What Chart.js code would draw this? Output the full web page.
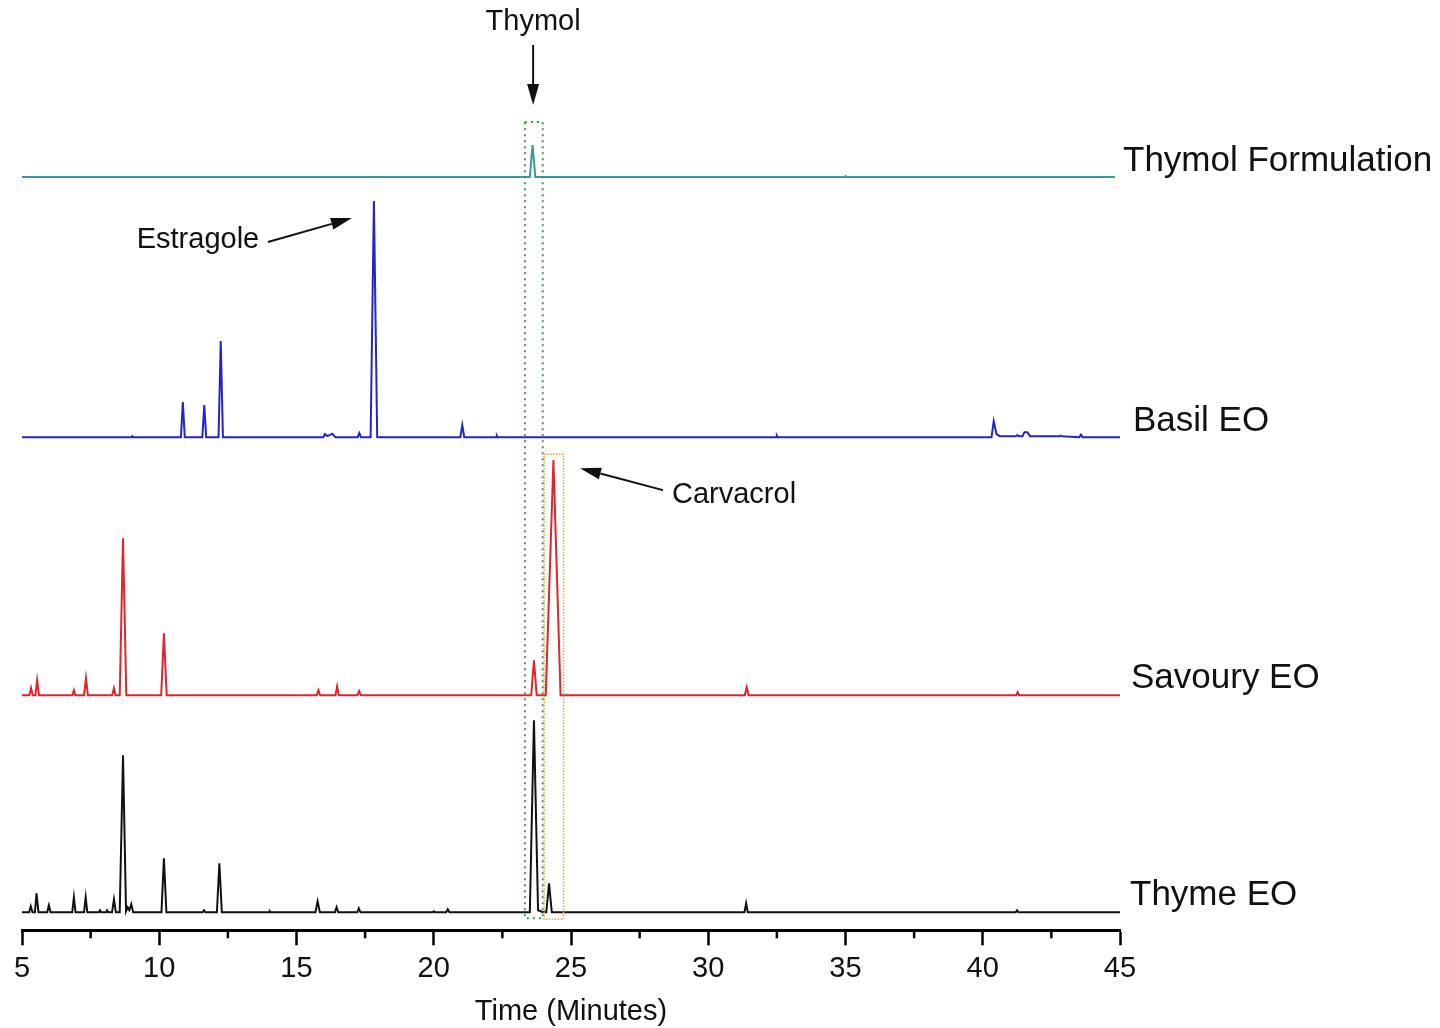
<!DOCTYPE html>
<html>
<head>
<meta charset="utf-8">
<title>GC chromatograms</title>
<script src="https://cdn.jsdelivr.net/npm/chart.js@4.4.1/dist/chart.umd.min.js"></script>
<style>
  html, body { margin: 0; padding: 0; background: #fff; }
  canvas { display: block; }
</style>
</head>
<body>
<canvas id="chromChart" width="1440" height="1028"></canvas>
<script>
// retention time (min) and signal above each trace's own baseline
const thymeTime = [5.0, 5.26, 5.32, 5.38, 5.47, 5.53, 5.60, 5.92, 5.98, 6.04, 6.83, 6.89, 6.95, 7.26, 7.32, 7.38,
  7.80, 7.84, 7.88, 8.06, 8.10, 8.14, 8.28, 8.35, 8.42, 8.56, 8.68, 8.79, 8.85, 8.91, 8.98, 9.05,
  10.08, 10.17, 10.26, 11.58, 11.63, 11.68, 12.10, 12.19, 12.28, 14.00, 14.03, 14.06,
  15.69, 15.77, 15.85, 16.40, 16.46, 16.52, 17.21, 17.27, 17.33, 19.96, 20.00, 20.04, 20.45, 20.51, 20.57,
  23.50, 23.65, 23.80, 23.98, 24.10, 24.20, 24.30, 31.32, 31.38, 31.44, 41.20, 41.25, 41.30, 45.0];
const thymeSignal = [0, 0, 6, 0, 0, 19, 0, 0, 7, 0, 0, 15, 0, 0, 15, 0,
  0, 2, 0, 0, 2, 0, 0, 13, 0, 0, 157, 1, 5, 2, 8, 0,
  0, 54, 0, 0, 2, 0, 0, 49, 0, 0, 1, 0,
  0, 11, 0, 0, 5, 0, 0, 4, 0, 0, 1, 0, 0, 3, 0,
  0, 192, 2, 0, 0, 29, 0, 0, 9, 0, 0, 2, 0, 0];

const savouryTime = [5.0, 5.27, 5.33, 5.39, 5.49, 5.55, 5.62, 6.84, 6.89, 6.94, 7.26, 7.33, 7.40,
  8.29, 8.35, 8.41, 8.56, 8.68, 8.80, 10.07, 10.17, 10.27, 15.74, 15.80, 15.86, 16.42, 16.48, 16.54,
  17.22, 17.28, 17.34, 23.55, 23.65, 23.75, 24.08, 24.36, 24.62, 31.33, 31.40, 31.47, 41.22, 41.27, 41.32, 45.0];
const savourySignal = [0, 0, 7, 0, 0, 15, 0, 0, 5, 0, 0, 17, 0,
  0, 7, 0, 0, 157, 0, 0, 62, 0, 0, 5, 0, 0, 9, 0,
  0, 4, 0, 0, 35, 0, 0, 235, 0, 0, 8, 0, 0, 3, 0, 0];

const basilTime = [5.0, 8.99, 9.02, 9.05, 10.79, 10.86, 10.93, 11.57, 11.64, 11.71, 12.16, 12.24, 12.32,
  15.98, 16.03, 16.13, 16.30, 16.42, 17.23, 17.29, 17.35, 17.70, 17.82, 17.94, 20.97, 21.04, 21.11,
  22.27, 22.30, 22.33, 32.47, 32.50, 32.53, 40.32, 40.40, 40.50, 40.62, 41.20, 41.26, 41.33, 41.45,
  41.52, 41.63, 41.72, 42.80, 42.84, 42.90, 43.52, 43.58, 43.64, 45.0];
const basilSignal = [0, 0, 1, 0, 0, 35, 0, 0, 32, 0, 0, 96, 0,
  0, 3, 1, 3.5, 0, 0, 4, 0, 0, 236, 0, 0, 12, 0,
  0, 1.5, 0, 0, 1.5, 0, 0, 16, 3, 1, 1, 2, 1, 1,
  5, 5, 1, 1, 1.5, 1, 0, 2.5, 0, 0];

const thymolTime = [5.0, 23.50, 23.60, 23.70, 34.97, 35.00, 35.03, 44.82];
const thymolSignal = [0, 0, 32, 0, 0, 0.8, 0, 0];

const traceNames = ["Thyme EO", "Savoury EO", "Basil EO", "Thymol Formulation"];
const traceOffsets = [18, 235, 493, 753];
const xTicks = [5, 10, 15, 20, 25, 30, 35, 40, 45];
const xMinorTicks = [7.5, 12.5, 17.5, 22.5, 27.5, 32.5, 37.5, 42.5];

const traceColors = ["#111111", "#e0242a", "#2424cc", "#3a9a9a"];
const FONT = "'Liberation Sans', Arial, sans-serif";

function buildPoints(times, signal, offset) {
  return times.map((t, i) => ({ x: t, y: signal[i] + offset }));
}

const series = [
  buildPoints(thymeTime, thymeSignal, traceOffsets[0]),
  buildPoints(savouryTime, savourySignal, traceOffsets[1]),
  buildPoints(basilTime, basilSignal, traceOffsets[2]),
  buildPoints(thymolTime, thymolSignal, traceOffsets[3])
];

function arrow(ctx, x1, y1, x2, y2) {
  const ang = Math.atan2(y2 - y1, x2 - x1);
  const len = 21, half = 6;
  const bx = x2 - len * Math.cos(ang), by = y2 - len * Math.sin(ang);
  ctx.beginPath();
  ctx.moveTo(x1, y1);
  ctx.lineTo(bx, by);
  ctx.stroke();
  ctx.beginPath();
  ctx.moveTo(x2, y2);
  ctx.lineTo(bx + half * Math.sin(ang), by - half * Math.cos(ang));
  ctx.lineTo(bx - half * Math.sin(ang), by + half * Math.cos(ang));
  ctx.closePath();
  ctx.fill();
}

const annotations = {
  id: "annotations",
  afterDraw(chart) {
    const { ctx, chartArea } = chart;
    const xs = chart.scales.x, ys = chart.scales.y;
    const X = v => xs.getPixelForValue(v), Y = v => ys.getPixelForValue(v);
    ctx.save();

    // minor ticks
    ctx.strokeStyle = "#000";
    ctx.lineWidth = 2.5;
    xMinorTicks.forEach(t => {
      ctx.beginPath();
      ctx.moveTo(X(t), chartArea.bottom);
      ctx.lineTo(X(t), chartArea.bottom + 8);
      ctx.stroke();
    });

    // dotted boxes around thymol and carvacrol
    ctx.setLineDash([2, 4]);
    ctx.lineWidth = 2;
    ctx.strokeStyle = "#3c9a48";
    ctx.strokeRect(X(23.32), Y(808), X(23.97) - X(23.32), Y(12) - Y(808));
    ctx.setLineDash([1.5, 1.5]);
    ctx.lineWidth = 1.5;
    ctx.strokeStyle = "#e8a040";
    ctx.strokeRect(X(24.02), Y(476), X(24.73) - X(24.02), Y(11) - Y(476));
    ctx.setLineDash([]);

    // peak callouts
    ctx.fillStyle = "#111";
    ctx.strokeStyle = "#111";
    ctx.lineWidth = 2;
    ctx.font = "29px " + FONT;
    ctx.textBaseline = "middle";
    ctx.textAlign = "center";
    ctx.fillText("Thymol", X(23.62), Y(908));
    arrow(ctx, X(23.62), Y(885), X(23.62), Y(825));
    ctx.fillText("Estragole", X(11.41), Y(690));
    arrow(ctx, X(13.96), Y(688), X(17.02), Y(712));
    ctx.textAlign = "left";
    ctx.fillText("Carvacrol", X(28.68), Y(435));
    arrow(ctx, X(28.35), Y(440), X(25.33), Y(462));

    // trace names
    ctx.font = "35px " + FONT;
    const nameDx = [10, 11, 13, 3];
    const nameY = [35, 252, 509, 769];
    traceNames.forEach((n, i) => {
      ctx.fillText(n, chartArea.right + nameDx[i], Y(nameY[i]));
    });
    ctx.restore();
  }
};

new Chart(document.getElementById("chromChart"), {
  type: "line",
  data: {
    datasets: series.map((pts, i) => ({
      label: traceNames[i],
      data: pts,
      borderColor: traceColors[i],
      borderWidth: 2,
      pointRadius: 0,
      tension: 0,
      fill: false
    }))
  },
  options: {
    responsive: false,
    animation: false,
    devicePixelRatio: 1,
    layout: { padding: { left: 22, right: 320, top: 10, bottom: 0 } },
    plugins: { legend: { display: false }, tooltip: { enabled: false } },
    scales: {
      x: {
        type: "linear",
        min: 5,
        max: 45,
        afterBuildTicks: scale => { scale.ticks = xTicks.map(v => ({ value: v })); },
        ticks: { font: { family: FONT, size: 29 }, color: "#111", padding: 6 },
        grid: { drawOnChartArea: false, drawTicks: true, tickLength: 15, tickWidth: 2.5, tickColor: "#000" },
        border: { display: true, color: "#000", width: 3 },
        title: {
          display: true,
          text: "Time (Minutes)",
          font: { family: FONT, size: 29, lineHeight: 1.1 },
          color: "#111",
          padding: { top: 4, bottom: 0 }
        }
      },
      y: { display: false, min: 0, max: 920 }
    }
  },
  plugins: [annotations]
});
</script>
</body>
</html>
